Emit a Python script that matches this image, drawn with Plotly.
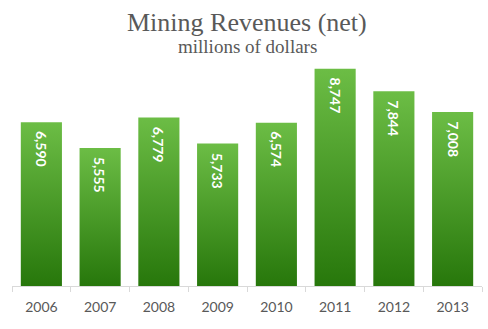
import plotly.graph_objects as go

years = ["2006", "2007", "2008", "2009", "2010", "2011", "2012", "2013"]
revenues = [6590, 5555, 6779, 5733, 6574, 8747, 7844, 7008]
labels = ["6,590", "5,555", "6,779", "5,733", "6,574", "8,747", "7,844", "7,008"]

BAR_W = 0.7
fig = go.Figure()
for i, v in enumerate(revenues):
    x0, x1 = i - BAR_W / 2, i + BAR_W / 2
    fig.add_trace(go.Scatter(
        x=[x0, x1, x1, x0, x0], y=[0, 0, v, v, 0],
        mode="lines", line=dict(width=0), fill="toself",
        fillgradient=dict(type="vertical",
                          colorscale=[[0, "#27770b"], [1, "#6cbd45"]]),
        hoverinfo="skip", showlegend=False,
    ))
    fig.add_annotation(
        x=i, y=v, yshift=-7, text=labels[i], showarrow=False,
        textangle=90, yanchor="top", xanchor="center",
        font=dict(family="Lato", size=14, color="white", weight="bold"),
    )

fig.add_annotation(
    xref="paper", yref="paper", x=0.5, y=1.164, xanchor="center", yanchor="middle",
    text="Mining Revenues (net)", showarrow=False,
    font=dict(family="Liberation Serif", size=26, color="#595959"),
)
fig.add_annotation(
    xref="paper", yref="paper", x=0.5, y=1.058, xanchor="center", yanchor="middle",
    text="millions of dollars", showarrow=False,
    font=dict(family="Liberation Serif", size=19, color="#595959"),
)

fig.update_layout(
    width=488, height=329,
    margin=dict(l=12, r=6, t=60, b=43),
    paper_bgcolor="white", plot_bgcolor="white",
    xaxis=dict(
        range=[-0.5, 7.5], tickmode="array", tickvals=list(range(8)),
        ticktext=years, ticks="", showgrid=False, zeroline=False,
        showline=True, linecolor="#d9d9d9", linewidth=1,
        tickfont=dict(family="Lato", size=14, color="#595959"),
        ticklabelstandoff=8,
        minor=dict(tick0=-0.5, dtick=1, ticks="outside", ticklen=5,
                   tickcolor="#d9d9d9", showgrid=False),
        fixedrange=True,
    ),
    yaxis=dict(range=[0, 9098], visible=False, fixedrange=True),
)
fig.write_html("out.html")
